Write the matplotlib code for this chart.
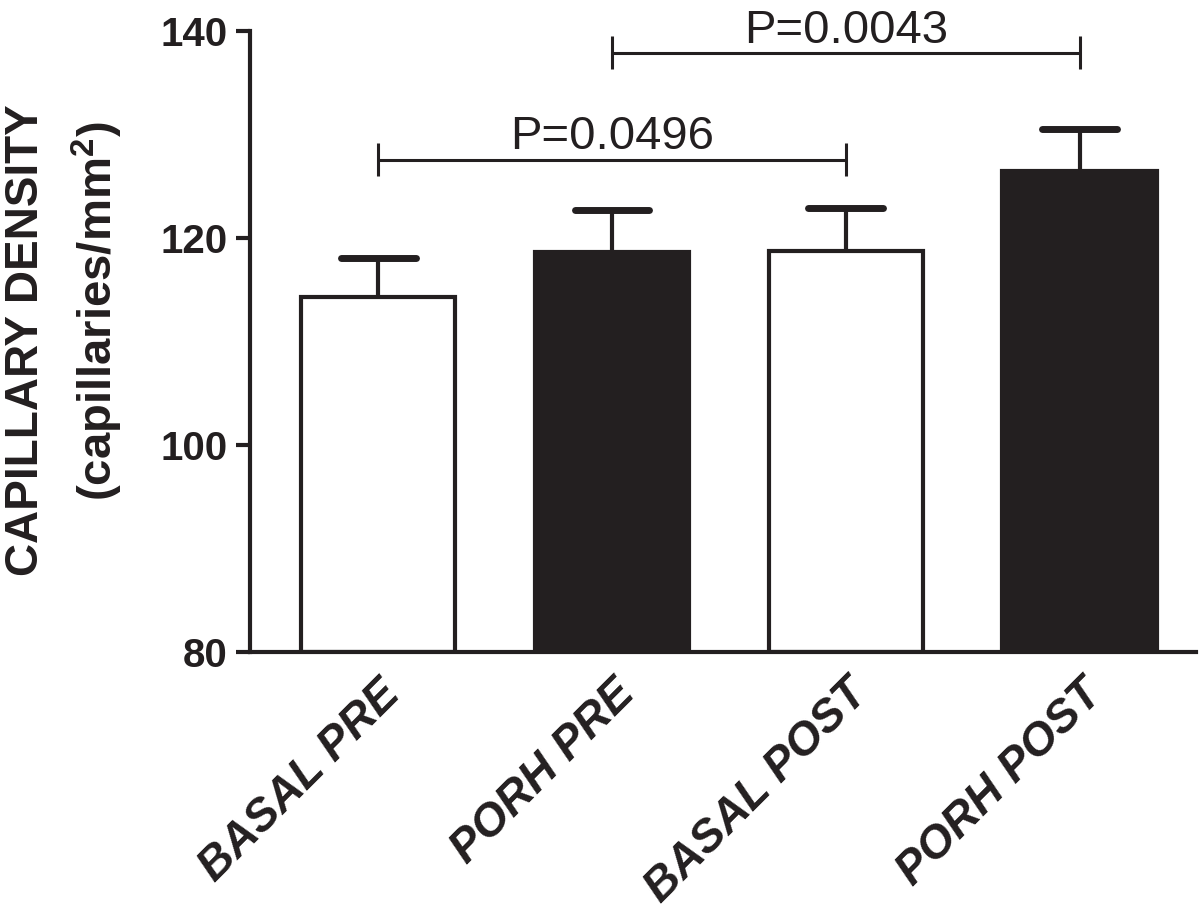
import matplotlib.pyplot as plt
import matplotlib.transforms as mtransforms

plt.rcParams['font.family'] = ['Liberation Sans', 'DejaVu Sans']
plt.rcParams['mathtext.fontset'] = 'custom'
plt.rcParams['mathtext.rm'] = 'Liberation Sans:bold'
plt.rcParams['mathtext.bf'] = 'Liberation Sans:bold'

# data
groups = ['BASAL PRE', 'PORH PRE', 'BASAL POST', 'PORH POST']
means = [114.3, 118.7, 118.8, 126.5]
sem = [3.8, 4.0, 4.1, 4.0]
fills = ['white', '#231f20', 'white', '#231f20']

# comparisons: (left group, right group, bracket height, label)
comparisons = [(0, 2, 127.6, 'P=0.0496'),
               (1, 3, 137.9, 'P=0.0043')]

ink = '#231f20'

fig = plt.figure(figsize=(12, 9.15), dpi=100)
ax = fig.add_axes([0.208, 0.287, 0.789, 0.679])

x = list(range(len(groups)))
ax.bar(x, [m - 80 for m in means], bottom=80, width=0.66, color=fills,
       edgecolor=ink, linewidth=3, zorder=2)

# upper error bars only (SEM)
tops = [m + s for m, s in zip(means, sem)]
ax.vlines(x, means, tops, colors=ink, linewidth=3, zorder=3)
caps = ax.hlines(tops, [xi - 0.16 for xi in x], [xi + 0.16 for xi in x],
                 colors=ink, linewidth=5, zorder=3)
caps.set_capstyle('round')

# significance brackets
for a, b, h, txt in comparisons:
    ax.plot([a, b], [h, h], color=ink, lw=2.2, solid_capstyle='butt')
    for xi in (a, b):
        ax.plot([xi, xi], [h - 1.6, h + 1.6], color=ink, lw=2.2, solid_capstyle='butt')
    ax.text((a + b) / 2, h + 1.0, txt, ha='center', va='baseline', fontsize=34, color=ink)

ax.set_xlim(-0.55, 3.5)
ax.set_ylim(80, 140)
ax.set_yticks([80, 100, 120, 140])
ax.set_xticks(x)
ax.set_xticklabels(groups, rotation=45, ha='right', rotation_mode='anchor',
                   fontsize=33, fontweight='bold', fontstyle='italic', color=ink)
shift = mtransforms.ScaledTranslation(-0.1, 0, fig.dpi_scale_trans)
for lab in ax.get_xticklabels():
    lab.set_transform(lab.get_transform() + shift)
for lab in ax.get_yticklabels():
    lab.set_fontsize(29)
    lab.set_fontweight('bold')
    lab.set_color(ink)

ax.tick_params(axis='y', length=10, width=3, color=ink, pad=6)
ax.tick_params(axis='x', length=0, pad=14)
for side in ['top', 'right']:
    ax.spines[side].set_visible(False)
for side in ['left', 'bottom']:
    ax.spines[side].set_linewidth(3)
    ax.spines[side].set_color(ink)

fig.text(0.022, 0.628, 'CAPILLARY DENSITY', rotation=90, ha='center', va='center',
         fontsize=33, fontweight='bold', color=ink)
fig.text(0.081, 0.66, '(capillaries/mm$^2$)', rotation=90, ha='center', va='center',
         fontsize=34, fontweight='bold', color=ink)

fig.savefig('out.png', dpi=100)
